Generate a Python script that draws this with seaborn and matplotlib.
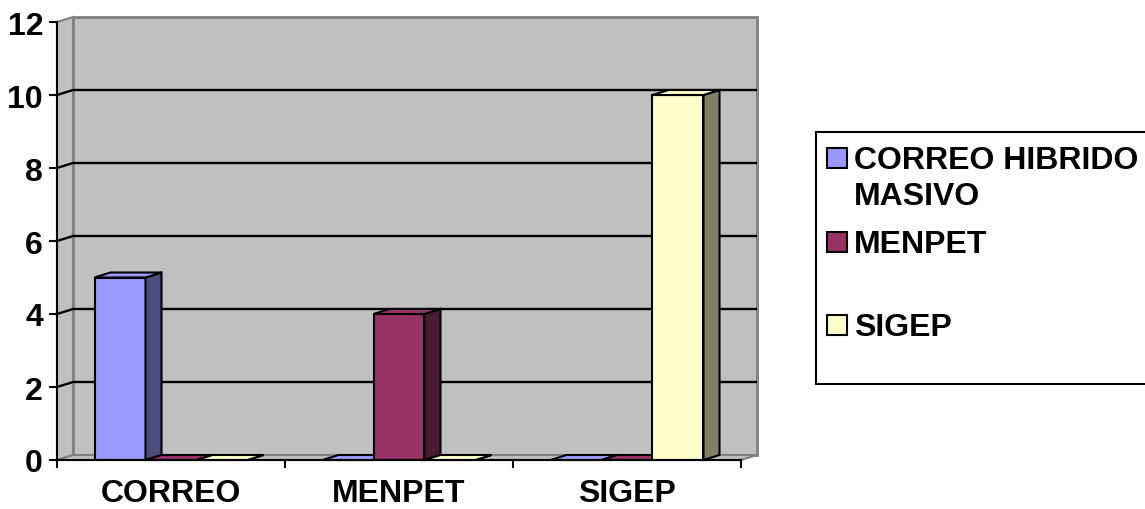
import numpy as np
import pandas as pd
import matplotlib
matplotlib.use("Agg")
import matplotlib.pyplot as plt
import matplotlib.colors as mcolors
from matplotlib.patches import Polygon, Rectangle
import seaborn as sns

categories = ["CORREO", "MENPET", "SIGEP"]
series = ["CORREO HIBRIDO MASIVO", "MENPET", "SIGEP"]
legend_labels = ["CORREO HIBRIDO\nMASIVO", "MENPET", "SIGEP"]
correo_hibrido = [5, 0, 0]
menpet = [0, 4, 0]
sigep = [0, 0, 10]
y_ticks = [0, 2, 4, 6, 8, 10, 12]
colors = ["#9999FF", "#993366", "#FFFFCC"]

df = pd.DataFrame({
    "categoria": categories * 3,
    "serie": np.repeat(series, len(categories)),
    "valor": correo_hibrido + menpet + sigep,
})

sns.set_theme(style="white")
plt.rcParams["font.family"] = ["Liberation Sans", "DejaVu Sans"]
plt.rcParams["font.weight"] = "bold"
FS = 23

W, H = 1145, 510
fig = plt.figure(figsize=(W / 100, H / 100), dpi=100)
ax = fig.add_axes([57 / W, 49 / H, 684 / W, 438 / H])

sns.barplot(data=df, x="categoria", y="valor", hue="serie", order=categories,
            hue_order=series, palette=colors, width=0.671, saturation=1,
            edgecolor="black", linewidth=1.5, legend=False, ax=ax)

x0, x1, ymax = -0.5, 2.5, 12
ax.set_xlim(x0, x1)
ax.set_ylim(0, ymax)

# depth of the pseudo-3D box, in data units
DX, DY = 16 / 228, 5 / 36.5
wall, wall_edge = "#C0C0C0", "#808080"

ax.add_patch(Polygon([(x0 + DX, DY), (x1 + DX, DY), (x1 + DX, ymax + DY), (x0 + DX, ymax + DY)],
                     closed=True, fc=wall, ec=wall_edge, lw=2, zorder=0.5, clip_on=False))
ax.add_patch(Polygon([(x0, 0), (x0 + DX, DY), (x0 + DX, ymax + DY), (x0, ymax)],
                     closed=True, fc=wall, ec=wall_edge, lw=1.5, zorder=0.4, clip_on=False))
ax.add_patch(Polygon([(x0, 0), (x1, 0), (x1 + DX, DY), (x0 + DX, DY)],
                     closed=True, fc=wall, ec=wall_edge, lw=1.5, zorder=0.6, clip_on=False))
for t in y_ticks[1:-1]:
    ax.plot([x0, x0 + DX, x1 + DX], [t, t + DY, t + DY], color="black", lw=1.7,
            zorder=0.7, clip_on=False, solid_capstyle="butt")

# side and top faces of each bar, stacked so right-hand bars cover left ones
bars = [p for c in ax.containers for p in c]
bars.sort(key=lambda p: p.get_x())
for i, p in enumerate(bars):
    z = 2 + i * 0.01
    x, w, h = p.get_x(), p.get_width(), p.get_height()
    fc = np.array(mcolors.to_rgb(p.get_facecolor()))
    p.set_zorder(z)
    ax.add_patch(Polygon([(x + w, 0), (x + w + DX, DY), (x + w + DX, h + DY), (x + w, h)],
                         closed=True, fc=fc * 0.5, ec="black", lw=1.5, zorder=z, clip_on=False))
    ax.add_patch(Polygon([(x, h), (x + w, h), (x + w + DX, h + DY), (x + DX, h + DY)],
                         closed=True, fc=fc, ec="black", lw=1.5, zorder=z, clip_on=False))

ax.set_yticks(y_ticks)
ax.set_yticklabels([str(t) for t in y_ticks], fontsize=FS, fontweight="bold")
ax.set_xticks(range(len(categories)))
ax.set_xticklabels(categories, fontsize=FS, fontweight="bold")
ax.set_xticks(np.arange(x0, x1 + 0.01, 1.0), minor=True)
ax.tick_params(axis="x", which="major", length=0, pad=13, colors="black")
ax.tick_params(axis="x", which="minor", length=6, width=1.5, direction="out", color="black", bottom=True)
ax.tick_params(axis="y", length=6, width=1.5, direction="out", pad=4, colors="black", left=True)
ax.set_xlabel("")
ax.set_ylabel("")
ax.grid(False)
for s in ["top", "right"]:
    ax.spines[s].set_visible(False)
for s in ["left", "bottom"]:
    ax.spines[s].set_color("black")
    ax.spines[s].set_linewidth(1.5)
    ax.spines[s].set_zorder(3)

# legend box
def fx(px):
    return px / W

def fy(py):
    return 1 - py / H

fig.patches.append(Rectangle((fx(816), fy(385)), fx(1160) - fx(816), fy(133) - fy(385),
                             transform=fig.transFigure, fc="white", ec="black", lw=1.5))
for label, col, cy in zip(legend_labels, colors, [159, 243, 326]):
    fig.patches.append(Rectangle((fx(827), fy(cy + 10)), fx(20), 20 / H, transform=fig.transFigure,
                                 fc=col, ec="black", lw=1.5))
    fig.text(fx(854), fy(cy - 13), label, fontsize=FS, fontweight="bold", va="top",
             ha="left", linespacing=1.25, color="black")

fig.savefig("out.png", dpi=100, facecolor="white")
